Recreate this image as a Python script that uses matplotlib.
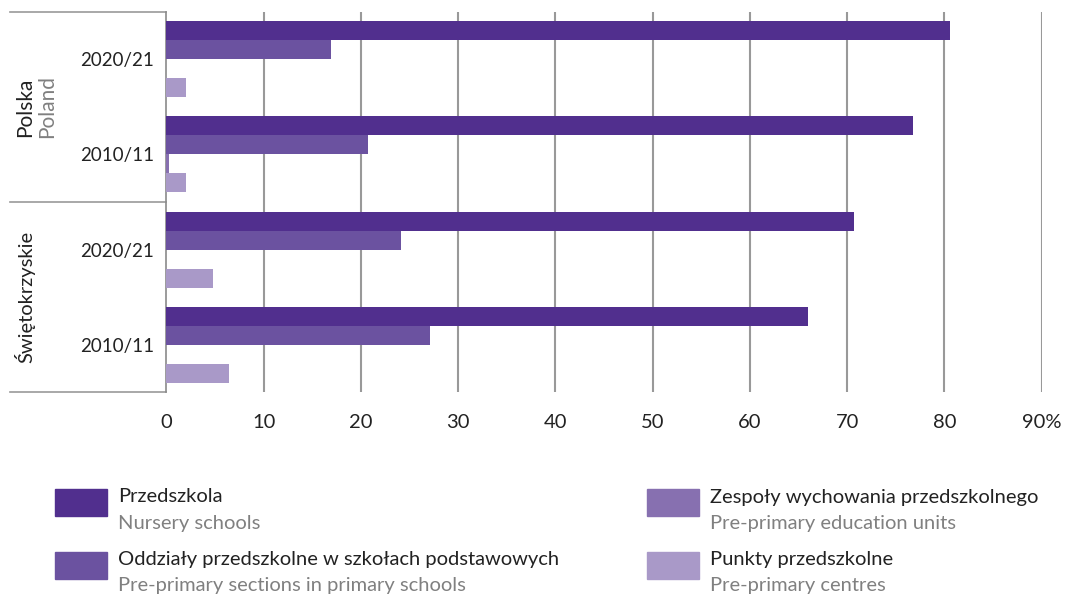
import numpy as np
import matplotlib.pyplot as plt

plt.rcParams['font.family'] = ['Lato', 'DejaVu Sans']

# groups top to bottom
years = ["2020/21", "2010/11", "2020/21", "2010/11"]
regions = ["Polska", "Świętokrzyskie"]

series_pl = ["Przedszkola", "Oddziały przedszkolne w szkołach podstawowych",
             "Zespoły wychowania przedszkolnego", "Punkty przedszkolne"]
series_en = ["Nursery schools", "Pre-primary sections in primary schools",
             "Pre-primary education units", "Pre-primary centres"]
colors = ["#512f8e", "#6b52a0", "#8770b0", "#a999c8"]

przedszkola = [80.6, 76.8, 70.7, 66.0]
oddzialy = [16.9, 20.7, 24.1, 27.1]
zespoly = [0.0, 0.3, 0.0, 0.0]
punkty = [2.0, 2.0, 4.8, 6.4]
values = [przedszkola, oddzialy, zespoly, punkty]

xticks = [0, 10, 20, 30, 40, 50, 60, 70, 80, 90]
xticklabels = ["0", "10", "20", "30", "40", "50", "60", "70", "80", "90%"]

fig = plt.figure(figsize=(10.7, 5.95), dpi=100)
ax = fig.add_axes([0.1556, 0.341, 0.8178, 0.639])

n = len(years)
y = np.arange(n)
h = 0.2
for i, vals in enumerate(values):
    ax.barh(y - 0.3 + i * h, vals, height=h, color=colors[i], zorder=3)

ax.set_ylim(n - 0.5, -0.5)
ax.set_xlim(0, 90)
ax.set_xticks(xticks)
ax.set_xticklabels(xticklabels, fontsize=14.5, color="#222222")
ax.tick_params(axis="x", length=0, pad=16)
ax.set_yticks(y)
ax.set_yticklabels(years, fontsize=13.5, color="#222222")
ax.tick_params(axis="y", length=0, pad=9)
for s in ["top", "right", "bottom"]:
    ax.spines[s].set_visible(False)
ax.spines["left"].set_color("#8a8a8a")
ax.spines["left"].set_linewidth(1.2)
for t in xticks[1:]:
    ax.axvline(t, color="#999999", lw=1.5, zorder=1)

# left label frame
trans = ax.get_yaxis_transform()
for yy in [-0.5, 1.5, 3.5]:
    ax.plot([-0.179, 0], [yy, yy], transform=trans,
            color="#999999", lw=1.2, clip_on=False)

ax.text(-0.162, 0.5, regions[0], transform=trans, rotation=90, ha="center",
        va="center", fontsize=15, color="#222222")
ax.text(-0.136, 0.5, "Poland", transform=trans, rotation=90, ha="center",
        va="center", fontsize=15, color="#808080")
ax.text(-0.162, 2.5, regions[1], transform=trans, rotation=90,
        ha="center", va="center", fontsize=14.5, color="#222222")

# legend
legend_pos = [(55, 489), (55, 552), (647, 489), (647, 552)]
for i, (lx, ly) in enumerate(legend_pos):
    fig.patches.append(plt.Rectangle((lx / 1070, 1 - (ly + 27) / 595), 52 / 1070,
                                     27 / 595, transform=fig.transFigure,
                                     color=colors[i]))
    fig.text((lx + 63) / 1070, 1 - (ly + 8) / 595, series_pl[i], fontsize=14.5,
             color="#222222", va="center")
    fig.text((lx + 63) / 1070, 1 - (ly + 34) / 595, series_en[i], fontsize=14.5,
             color="#808080", va="center")

fig.savefig("out.png", dpi=100)
